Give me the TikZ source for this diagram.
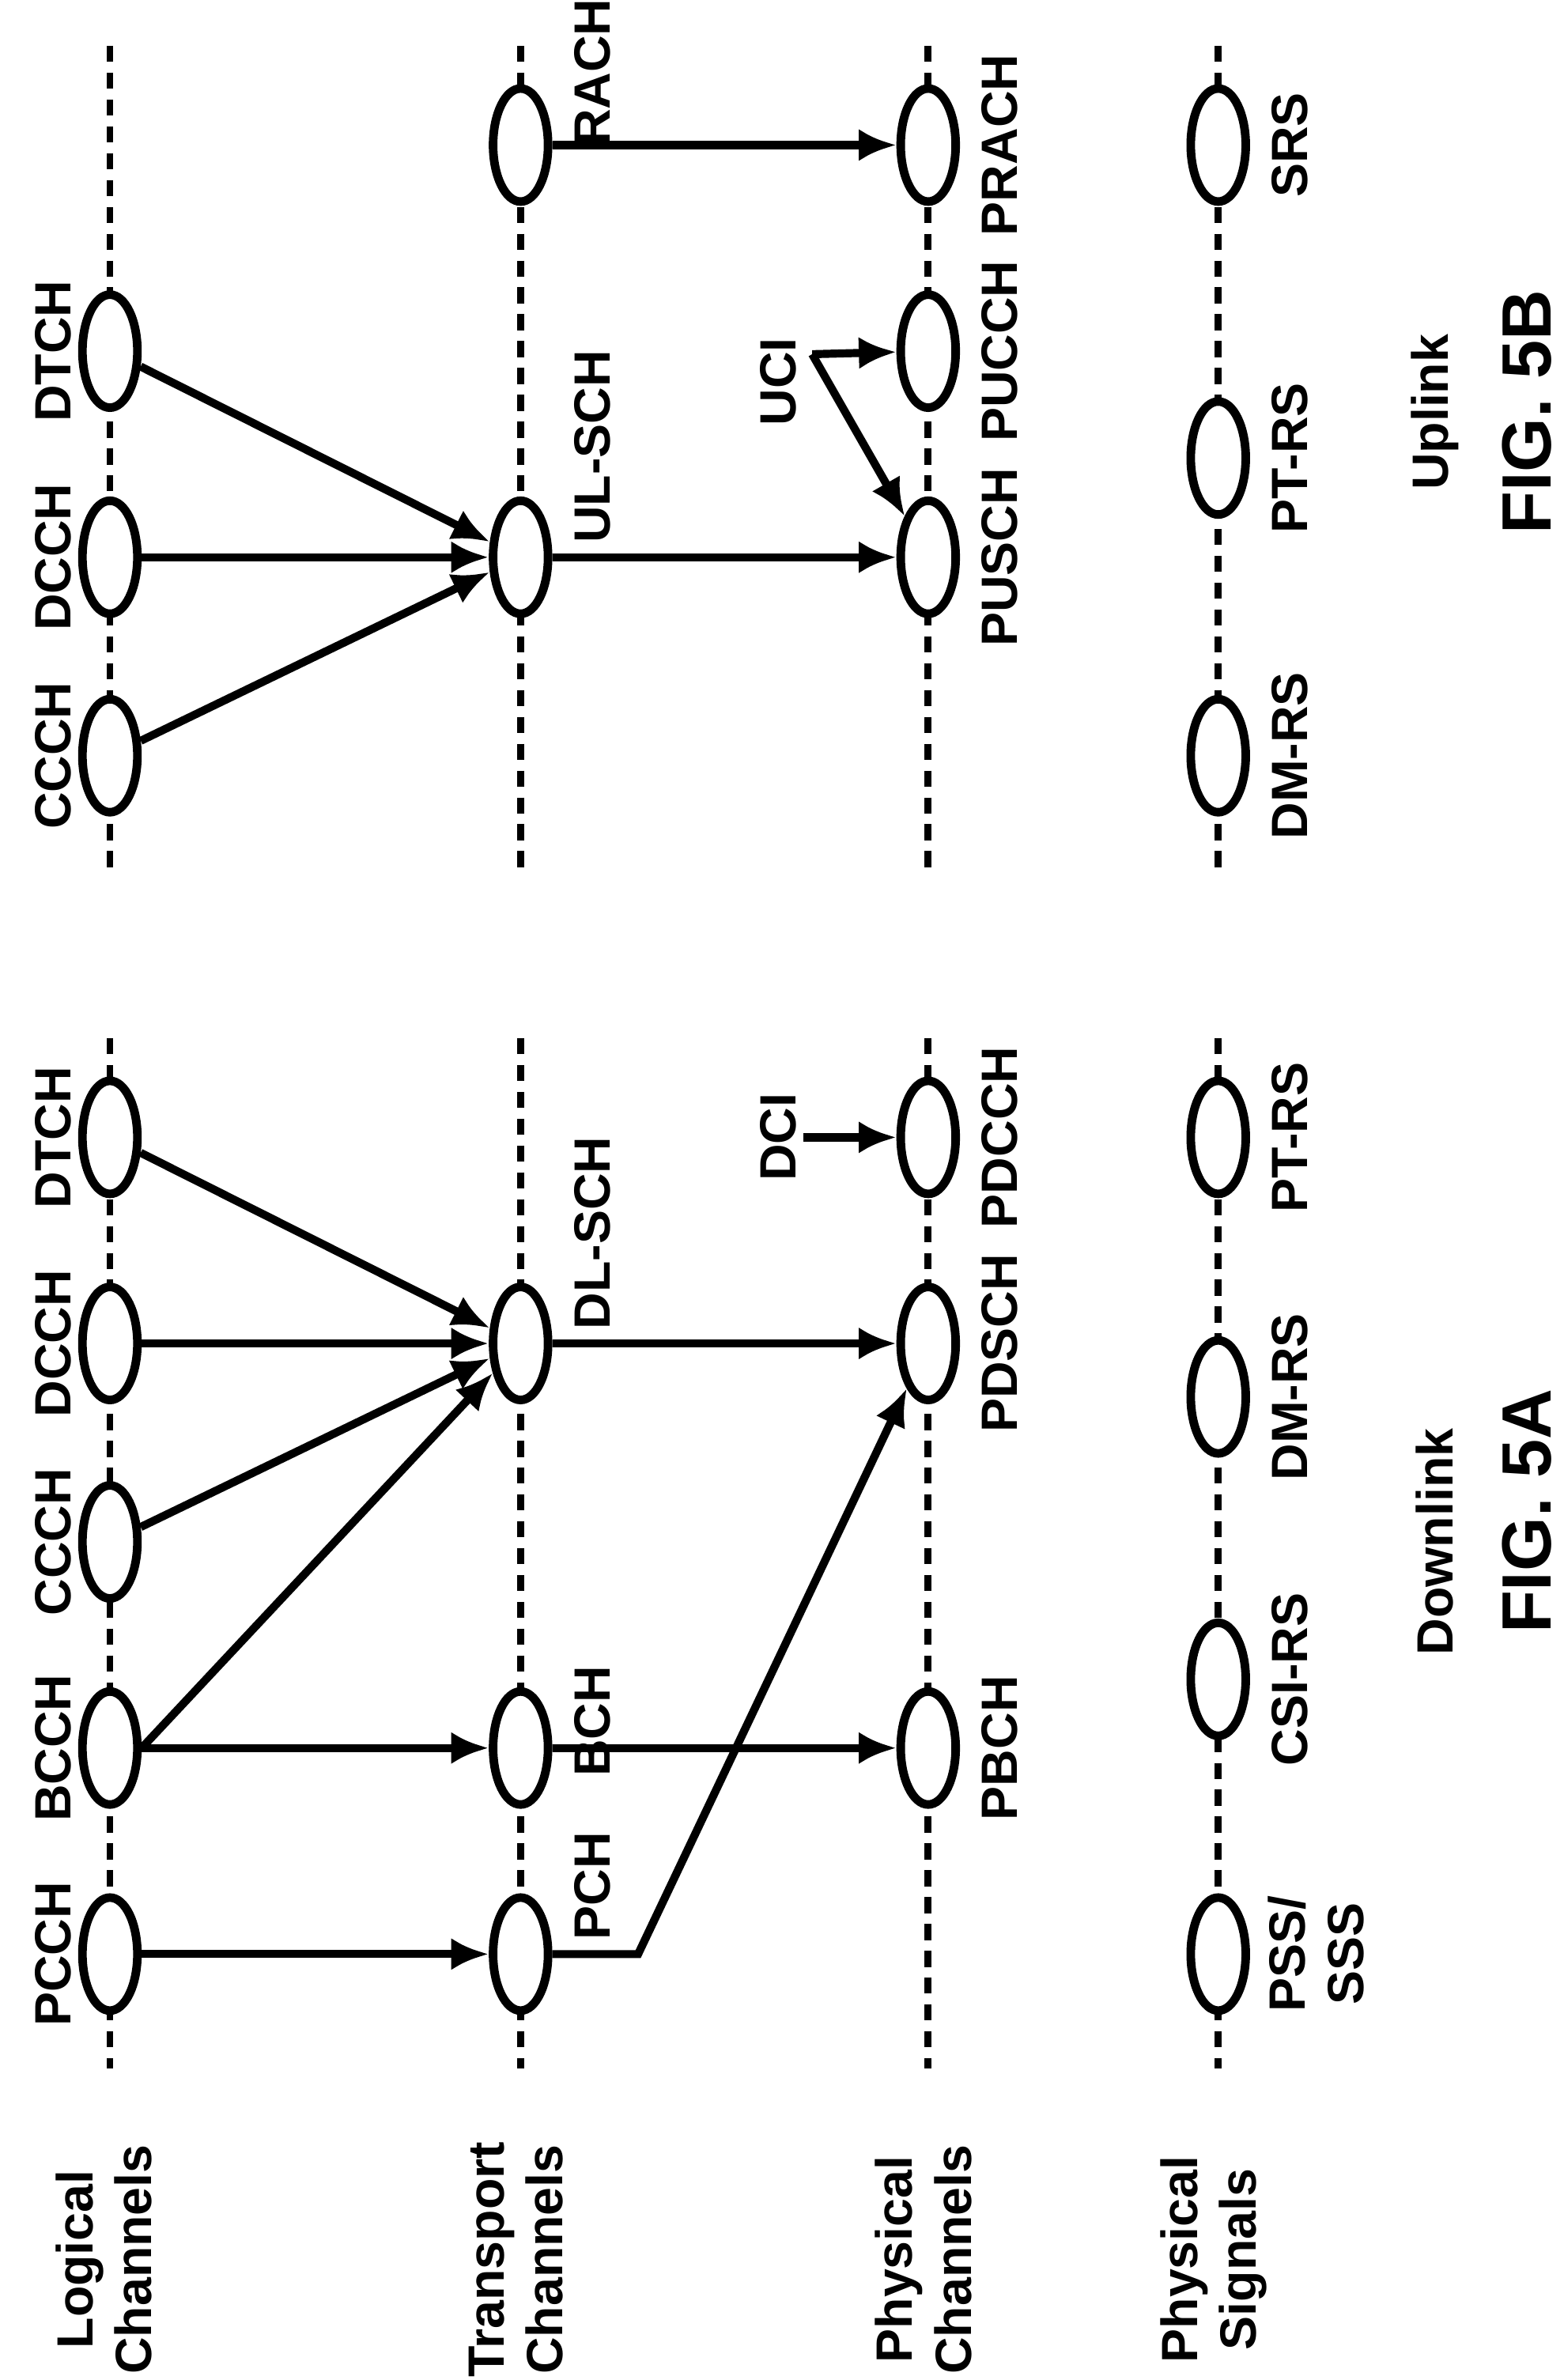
\documentclass[tikz,border=0pt]{standalone}
\usepackage{fontspec}
\setmainfont{Liberation Sans}
\usetikzlibrary{shapes.geometric,arrows.meta,positioning}
\begin{document}
\begin{tikzpicture}
[x=0.01cm,y=-0.01cm,
    chan/.style={draw,shape=ellipse,fill=white,line width=1.6pt,minimum width=.36cm,minimum height=.74cm,inner sep=0pt},
    lab/.style={rotate=90,font=\fontsize{9.5}{11}\selectfont\bfseries,align=center,inner sep=1pt},
    fig/.style={rotate=90,font=\fontsize{13}{15}\selectfont\bfseries,inner sep=1pt},
    layer/.style={line width=1.3pt,dash pattern=on 3pt off 2pt},
    myedge/.style={-{Latex[length=7pt,width=6pt]},line width=1.5pt}]
\useasboundingbox (0,0) rectangle (1024,1559);
%% layer lines
\foreach \lx in {72,341,608,798} {
  \draw[layer] (\lx,30) -- (\lx,575);
  \draw[layer] (\lx,680) -- (\lx,1355);
}
%% layer names
\node[lab] (lname) at (68,1480) {Logical\\Channels};
\node[lab] (tname) at (338,1480) {Transport\\Channels};
\node[lab] (pname) at (605,1480) {Physical\\Channels};
\node[lab] (sname) at (795,1480) {Physical\\Signals};
%%%%%%%%%% downlink
\node (pcch) [chan] at (72,1280) {};
\node (bcch) [chan] at (72,1145) {};
\node (ccch) [chan] at (72,1010) {};
\node (dcch) [chan] at (72,880) {};
\node (dtch) [chan] at (72,745) {};
\node[lab] at (35,1280) {PCCH};
\node[lab] at (35,1145) {BCCH};
\node[lab] at (35,1010) {CCCH};
\node[lab] at (35,880) {DCCH};
\node[lab] at (35,745) {DTCH};
\node (pch) [chan] at (341,1280) {};
\node (bch) [chan] at (341,1145) {};
\node (dlsch) [chan] at (341,880) {};
\node[lab,anchor=west] at (388,1275) {PCH};
\node[lab,anchor=west] at (388,1168) {BCH};
\node[lab,anchor=west] at (388,875) {DL-SCH};
\node (pbch) [chan] at (608,1145) {};
\node (pdsch) [chan] at (608,880) {};
\node (pdcch) [chan] at (608,745) {};
\node[lab] at (655,1145) {PBCH};
\node[lab] at (655,880) {PDSCH};
\node[lab] at (655,745) {PDCCH};
\node (pss) [chan] at (798,1280) {};
\node (csirs) [chan] at (798,1100) {};
\node (dmrsa) [chan] at (798,915) {};
\node (ptrsa) [chan] at (798,745) {};
\node[lab] at (862,1280) {PSS/\\SSS};
\node[lab] at (845,1100) {CSI-RS};
\node[lab] at (845,915) {DM-RS};
\node[lab] at (845,745) {PT-RS};
\node (dci) [lab] at (510,745) {DCI};
\node[lab] at (940,1010) {Downlink};
\node[fig] at (1000,990) {FIG. 5A};
%% edges
\coordinate (bend) at (418,1280);
\draw[myedge] (pcch) -- (pch);
\draw[myedge] (bcch) -- (bch);
\draw[myedge] (bch) -- (pbch);
\draw[myedge] (bcch.east) -- (dlsch);
\draw[myedge] (ccch) -- (dlsch);
\draw[myedge] (dcch) -- (dlsch);
\draw[myedge] (dtch) -- (dlsch);
\draw[myedge] (dlsch) -- (pdsch);
\draw[myedge] (pch.east) -- (bend) -- (pdsch);
\draw[myedge] (dci) -- (pdcch);
%%%%%%%%%% uplink
\node (ccchu) [chan] at (72,495) {};
\node (dcchu) [chan] at (72,365) {};
\node (dtchu) [chan] at (72,230) {};
\node[lab] at (35,495) {CCCH};
\node[lab] at (35,365) {DCCH};
\node[lab] at (35,230) {DTCH};
\node (ulsch) [chan] at (341,365) {};
\node (rach) [chan] at (341,95) {};
\node[lab,anchor=west] at (388,360) {UL-SCH};
\node[lab,anchor=west] at (388,100) {RACH};
\node (pusch) [chan] at (608,365) {};
\node (pucch) [chan] at (608,230) {};
\node (prach) [chan] at (608,95) {};
\node[lab] at (655,365) {PUSCH};
\node[lab] at (655,230) {PUCCH};
\node[lab] at (655,95) {PRACH};
\node (dmrsb) [chan] at (798,495) {};
\node (ptrsb) [chan] at (798,300) {};
\node (srs) [chan] at (798,95) {};
\node[lab] at (845,495) {DM-RS};
\node[lab] at (845,300) {PT-RS};
\node[lab] at (845,95) {SRS};
\node (uci) [lab] at (510,250) {UCI};
\coordinate (ucif) at (532,232);
\node[lab] at (940,270) {Uplink};
\node[fig] at (1000,270) {FIG. 5B};
%% edges
\draw[myedge] (ccchu) -- (ulsch);
\draw[myedge] (dcchu) -- (ulsch);
\draw[myedge] (dtchu) -- (ulsch);
\draw[myedge] (ulsch) -- (pusch);
\draw[myedge] (rach) -- (prach);
\draw[myedge] (ucif) -- (pucch);
\draw[myedge] (ucif) -- (pusch);
\end{tikzpicture}
\end{document}
